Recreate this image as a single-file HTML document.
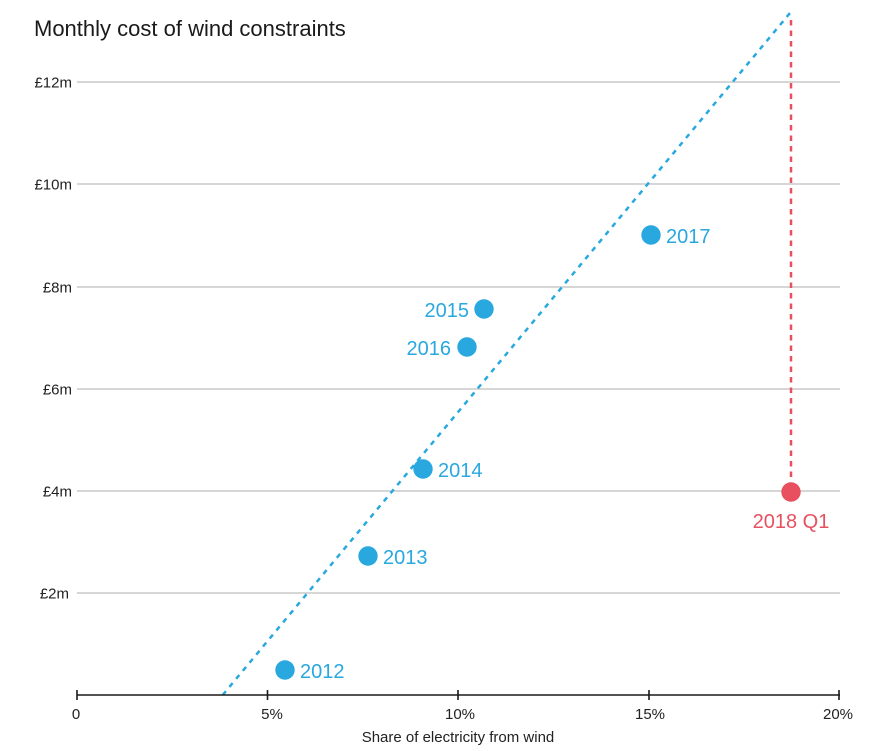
<!DOCTYPE html>
<html><head><meta charset="utf-8"><style>
html,body{margin:0;padding:0;background:#fff;}
svg{display:block;font-family:"Liberation Sans",sans-serif;}
</style></head><body>
<svg width="889" height="751" viewBox="0 0 889 751" xmlns="http://www.w3.org/2000/svg">
<text x="34" y="36" font-size="22" fill="#1a1a1a">Monthly cost of wind constraints</text>
<g stroke="#bdbdbd" stroke-width="1.3">
<line x1="77" y1="82" x2="840" y2="82"/>
<line x1="77" y1="184" x2="840" y2="184"/>
<line x1="77" y1="287" x2="840" y2="287"/>
<line x1="77" y1="389" x2="840" y2="389"/>
<line x1="77" y1="491" x2="840" y2="491"/>
<line x1="77" y1="593" x2="840" y2="593"/>
</g>
<g font-size="15" fill="#222" text-anchor="end">
<text x="72" y="87.5">£12m</text>
<text x="72" y="189.5">£10m</text>
<text x="72" y="292.5">£8m</text>
<text x="72" y="394.5">£6m</text>
<text x="72" y="496.5">£4m</text>
<text x="69" y="598.5">£2m</text>
</g>
<line x1="222.7" y1="695" x2="790" y2="13" stroke="#29a8e0" stroke-width="2.5" stroke-dasharray="5 5.5"/>
<line x1="791" y1="20" x2="791" y2="480" stroke="#e8505f" stroke-width="2.5" stroke-dasharray="5.5 5"/>
<g stroke="#1a1a1a" stroke-width="1.6">
<line x1="77" y1="695" x2="840" y2="695"/>
<line x1="77" y1="690" x2="77" y2="700"/>
<line x1="267.5" y1="690" x2="267.5" y2="700"/>
<line x1="458" y1="690" x2="458" y2="700"/>
<line x1="649" y1="690" x2="649" y2="700"/>
<line x1="839" y1="690" x2="839" y2="700"/>
</g>
<g font-size="15" fill="#222" text-anchor="middle">
<text x="76" y="719">0</text>
<text x="272" y="719">5%</text>
<text x="460" y="719">10%</text>
<text x="650" y="719">15%</text>
<text x="838" y="719">20%</text>
<text x="458" y="742">Share of electricity from wind</text>
</g>
<g fill="#29a8e0">
<circle cx="285" cy="670" r="9.7"/>
<circle cx="368" cy="556" r="9.7"/>
<circle cx="423" cy="469" r="9.7"/>
<circle cx="467" cy="347" r="9.7"/>
<circle cx="484" cy="309" r="9.7"/>
<circle cx="651" cy="235" r="9.7"/>
</g>
<g font-size="20" fill="#29a8e0">
<text x="300" y="678">2012</text>
<text x="383" y="564">2013</text>
<text x="438" y="477">2014</text>
<text x="451" y="355" text-anchor="end">2016</text>
<text x="469" y="317" text-anchor="end">2015</text>
<text x="666" y="243">2017</text>
</g>
<circle cx="791" cy="492" r="9.7" fill="#e8505f"/>
<text x="791" y="528" font-size="20" fill="#e8505f" text-anchor="middle">2018 Q1</text>
</svg>
</body></html>
